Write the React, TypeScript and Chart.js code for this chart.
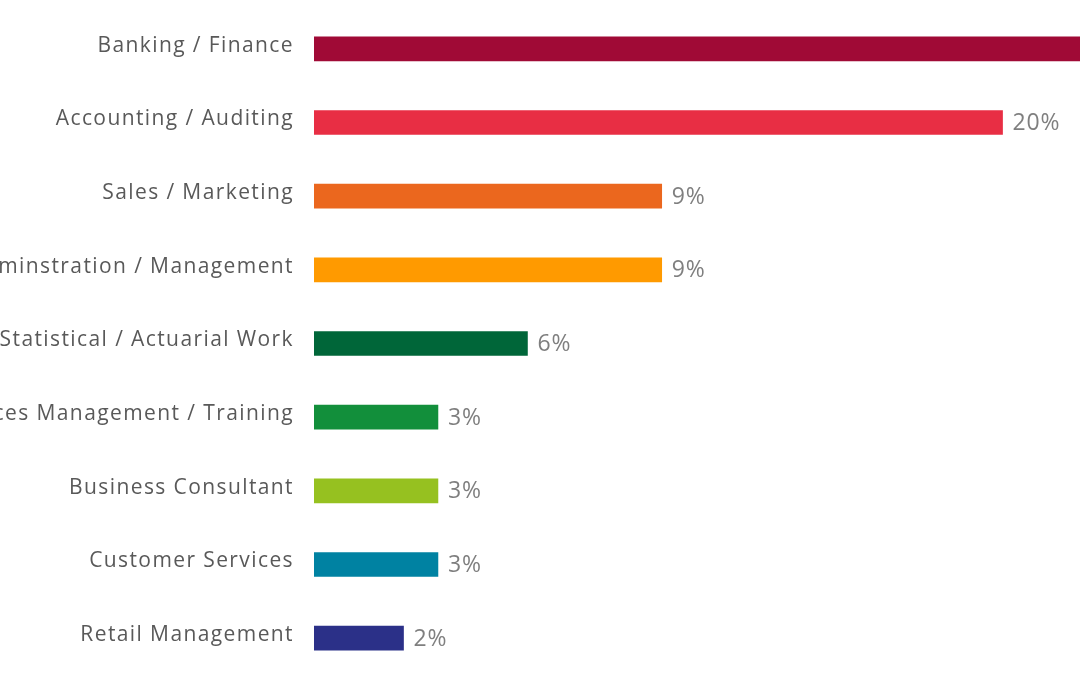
import React, { useEffect, useRef } from "react";
import { Chart, registerables } from "chart.js";

Chart.register(...registerables);

const categories = [
  "Banking / Finance",
  "Accounting / Auditing",
  "Sales / Marketing",
  "Adminstration / Management",
  "Statistical / Actuarial Work",
  "Human Resources Management / Training",
  "Business Consultant",
  "Customer Services",
  "Retail Management",
];

// bar lengths (percent units)
const barValues = [27, 20, 10.1, 10.1, 6.2, 3.6, 3.6, 3.6, 2.6];

// data label text as printed in the picture
const valueLabels = ["", "20%", "9%", "9%", "6%", "3%", "3%", "3%", "2%"];

const barColors = [
  "#A00A36",
  "#E82E44",
  "#EB671E",
  "#FF9A00",
  "#006639",
  "#128F3B",
  "#96C120",
  "#0082A2",
  "#2B3088",
];

const xMax = 22.25;

const spacingPlugin = {
  id: "tickSpacing",
  beforeDraw(chart: any) {
    chart.ctx.letterSpacing = "1.4px";
  },
};

const valueLabelPlugin = {
  id: "valueLabels",
  afterDatasetsDraw(chart: any) {
    const ctx = chart.ctx;
    const meta = chart.getDatasetMeta(0);
    ctx.save();
    ctx.letterSpacing = "0.8px";
    ctx.font = "23px 'Open Sans'";
    ctx.fillStyle = "#7F7F7F";
    ctx.textAlign = "left";
    ctx.textBaseline = "middle";
    meta.data.forEach((bar: any, i: number) => {
      const t = valueLabels[i];
      if (!t) return;
      ctx.fillText(t, bar.x + 10, bar.y + 1);
    });
    ctx.restore();
  },
};

export default function App() {
  const ref = useRef<HTMLCanvasElement>(null);
  useEffect(() => {
    if (!ref.current) return;
    const chart = new Chart(ref.current, {
      type: "bar",
      data: {
        labels: categories,
        datasets: [
          {
            data: barValues,
            backgroundColor: barColors,
            borderWidth: 0,
            barThickness: 24,
          },
        ],
      },
      options: {
        indexAxis: "y",
        animation: false,
        responsive: false,
        maintainAspectRatio: false,
        layout: { padding: { top: 12, bottom: 0, left: 0, right: 0 } },
        plugins: {
          legend: { display: false },
          tooltip: { enabled: false },
        },
        scales: {
          x: {
            display: false,
            min: 0,
            max: xMax,
          },
          y: {
            grid: { display: false, drawTicks: false },
            border: { display: false },
            afterFit(scale: any) {
              scale.width = 314;
              scale.paddingTop = 0;
              scale.paddingBottom = 0;
            },
            ticks: {
              padding: 20,
              labelOffset: -3,
              color: "#595959",
              font: { family: "'Open Sans'", size: 21, weight: "500" },
            },
          },
        },
      },
      plugins: [spacingPlugin, valueLabelPlugin],
    });
    return () => chart.destroy();
  }, []);
  return (
    <div style={{ position: "absolute", left: 0, top: 0, width: 1080, height: 675, overflow: "hidden", background: "#fff" }}>
      <canvas ref={ref} width={1080} height={675} style={{ display: "block" }} />
    </div>
  );
}
